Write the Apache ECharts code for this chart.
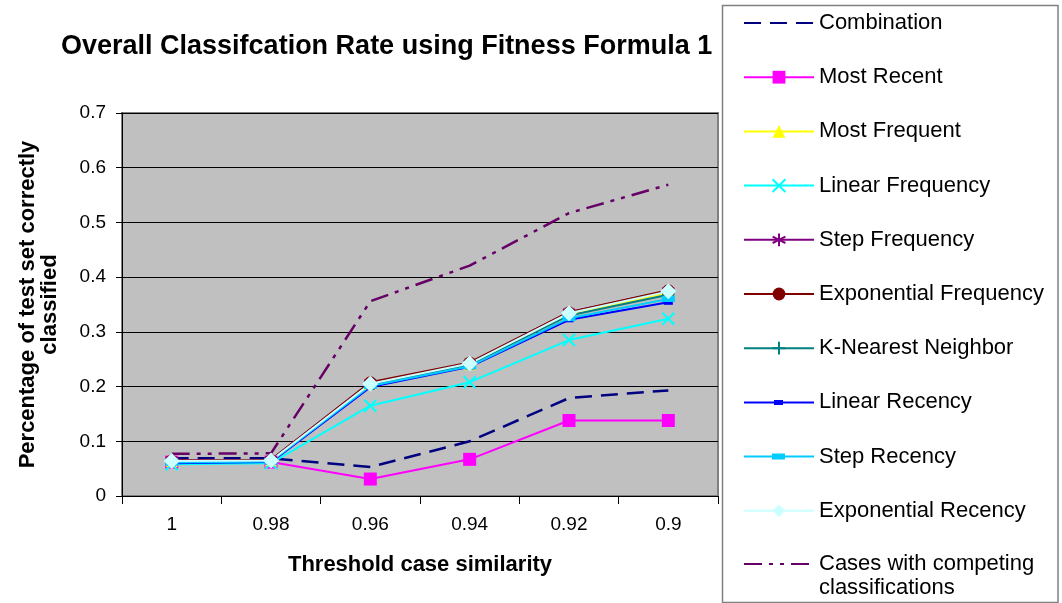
<!DOCTYPE html>
<html>
<head>
<meta charset="utf-8">
<script src="https://cdn.jsdelivr.net/npm/echarts@6/dist/echarts.min.js"></script>
<style>
  html, body { margin: 0; padding: 0; background: #fff; }
  #chart { width: 1062px; height: 603px; }
</style>
</head>
<body>
<div id="chart"></div>
<script>
// Threshold case similarity values along the x axis
const thresholds = ['1', '0.98', '0.96', '0.94', '0.92', '0.9'];

// Fraction of the test set classified correctly, per method
const combination        = [0.069, 0.069, 0.053, 0.100, 0.179, 0.193];
const mostRecent         = [0.062, 0.062, 0.031, 0.067, 0.138, 0.138];
const mostFrequent       = [0.064, 0.065, 0.205, 0.241, 0.333, 0.372];
const linearFrequency    = [0.058, 0.060, 0.165, 0.208, 0.285, 0.324];
const stepFrequency      = [0.065, 0.066, 0.207, 0.243, 0.336, 0.375];
const exponentialFreq    = [0.065, 0.066, 0.208, 0.244, 0.336, 0.376];
const kNearestNeighbor   = [0.063, 0.064, 0.203, 0.240, 0.330, 0.368];
const linearRecency      = [0.060, 0.062, 0.199, 0.236, 0.322, 0.354];
const stepRecency        = [0.061, 0.063, 0.201, 0.237, 0.325, 0.360];
const exponentialRecency = [0.064, 0.065, 0.205, 0.242, 0.334, 0.374];
const competingCases     = [0.077, 0.078, 0.356, 0.421, 0.517, 0.569];

// Y axis ticks
const yMin = 0, yMax = 0.7, yStep = 0.1;

const FONT = 'Liberation Sans, Arial, sans-serif';

// Stroke-only marker shapes
const X_PATH = 'path://M0,0L10,10M10,0L0,10';
const STAR_PATH = 'path://M5,0L5,10M0,2.5L10,7.5M10,2.5L0,7.5';
const PLUS_PATH = 'path://M5,0L5,10M0,5L10,5';

// Legend keys for the recency series: a line with a small bar-shaped marker
const LIN_REC_KEY = 'path://M0,4h70v2h-70z M30,2.5h9v5h-9z';
const STEP_REC_KEY = 'path://M0,4h70v2h-70z M28,2h13v6h-13z';

const COMPETING = 'Cases with competing classifications';

function lineSeries(name, data, color, opts) {
  opts = opts || {};
  return {
    name: name,
    type: 'line',
    data: data,
    symbol: opts.symbol || 'none',
    symbolSize: opts.symbolSize || 10,
    showSymbol: opts.symbol ? true : false,
    lineStyle: { color: color, width: opts.width || 2, type: opts.dash || 'solid' },
    itemStyle: Object.assign({ color: color }, opts.itemStyle || {}),
    emphasis: { disabled: true },
    animation: false
  };
}

const series = [
  lineSeries('Combination', combination, '#000080', { dash: [17, 9], width: 2.5 }),
  lineSeries('Most Recent', mostRecent, '#FF00FF', { symbol: 'rect', symbolSize: 13 }),
  lineSeries('Most Frequent', mostFrequent, '#FFFF00', { symbol: 'triangle', symbolSize: 12 }),
  lineSeries('Linear Frequency', linearFrequency, '#00FFFF', {
    symbol: X_PATH, symbolSize: 12,
    itemStyle: { color: 'none', borderColor: '#00FFFF', borderWidth: 2 }
  }),
  lineSeries('Step Frequency', stepFrequency, '#800080', {
    symbol: STAR_PATH, symbolSize: 12,
    itemStyle: { color: 'none', borderColor: '#800080', borderWidth: 2 }
  }),
  lineSeries('Exponential Frequency', exponentialFreq, '#800000', { symbol: 'circle', symbolSize: 12 }),
  lineSeries('K-Nearest Neighbor', kNearestNeighbor, '#008080', {
    symbol: PLUS_PATH, symbolSize: 12,
    itemStyle: { color: 'none', borderColor: '#008080', borderWidth: 2 }
  }),
  lineSeries('Linear Recency', linearRecency, '#0000FF', { symbol: 'rect', symbolSize: [9, 5] }),
  lineSeries('Step Recency', stepRecency, '#00CCFF', { symbol: 'rect', symbolSize: [13, 6] }),
  lineSeries('Exponential Recency', exponentialRecency, '#CCFFFF', { symbol: 'diamond', symbolSize: 16 }),
  lineSeries(COMPETING, competingCases, '#660066', { dash: [18, 7, 4, 7, 4, 7], width: 2.5 })
];

// Legend entries; line-only series hide the default marker
function legendItem(s) {
  const item = { name: s.name };
  if (s.symbol === 'none') item.itemStyle = { opacity: 0 };
  if (s.name === 'Linear Recency') item.icon = LIN_REC_KEY;
  if (s.name === 'Step Recency') item.icon = STEP_REC_KEY;
  return item;
}

const legendBase = {
  orient: 'vertical',
  left: 743,
  padding: 0,
  itemWidth: 70,
  itemHeight: 16,
  itemGap: 30.2,
  selectedMode: false,
  textStyle: { fontFamily: FONT, fontSize: 22, color: '#000', lineHeight: 24 }
};

const chart = echarts.init(document.getElementById('chart'), null, { renderer: 'canvas' });

chart.setOption({
  backgroundColor: '#ffffff',
  animation: false,
  title: {
    text: 'Overall Classifcation Rate using Fitness Formula 1',
    left: 56,
    top: 28,
    textStyle: { fontFamily: FONT, fontSize: 27, fontWeight: 'bold', color: '#000' }
  },
  graphic: [
    {
      type: 'rect',
      shape: { x: 722.5, y: 5.5, width: 335.5, height: 597 },
      style: { fill: '#fff', stroke: '#808080', lineWidth: 1.5 },
      z: 0
    }
  ],
  legend: [
    Object.assign({}, legendBase, {
      top: 11,
      data: series.filter(s => s.name !== COMPETING).map(legendItem)
    }),
    // wrapped entry: key line sits level with the first text line
    Object.assign({}, legendBase, {
      top: 528,
      formatter: () => '\nCases with competing\nclassifications',
      data: series.filter(s => s.name === COMPETING).map(legendItem)
    })
  ],
  grid: {
    left: 122,
    right: 344,
    top: 113,
    bottom: 107,
    show: true,
    backgroundColor: '#C0C0C0',
    borderColor: '#808080',
    borderWidth: 2
  },
  xAxis: {
    type: 'category',
    data: thresholds,
    boundaryGap: true,
    name: 'Threshold case similarity',
    nameLocation: 'middle',
    nameGap: 58,
    nameTextStyle: { fontFamily: FONT, fontSize: 22, fontWeight: 'bold', color: '#000' },
    axisLine: { show: true, lineStyle: { color: '#000', width: 1 } },
    axisTick: { show: true, length: 8, inside: false, interval: 0, lineStyle: { color: '#000' } },
    axisLabel: { fontFamily: FONT, fontSize: 19, color: '#000', margin: 19 },
    splitLine: { show: false }
  },
  yAxis: {
    type: 'value',
    min: yMin,
    max: yMax,
    interval: yStep,
    name: 'Percentage of test set correctly\nclassified',
    nameLocation: 'middle',
    nameGap: 61,
    nameTextStyle: { fontFamily: FONT, fontSize: 22, fontWeight: 'bold', color: '#000', lineHeight: 22 },
    axisLine: { show: true, lineStyle: { color: '#000', width: 1 } },
    axisTick: { show: true, length: 6, inside: false, lineStyle: { color: '#000' } },
    axisLabel: {
      fontFamily: FONT, fontSize: 19, color: '#000', margin: 16,
      formatter: v => String(Math.round(v * 10) / 10)
    },
    splitLine: { show: true, lineStyle: { color: '#000', width: 1 } }
  },
  series: series
});
</script>
</body>
</html>
